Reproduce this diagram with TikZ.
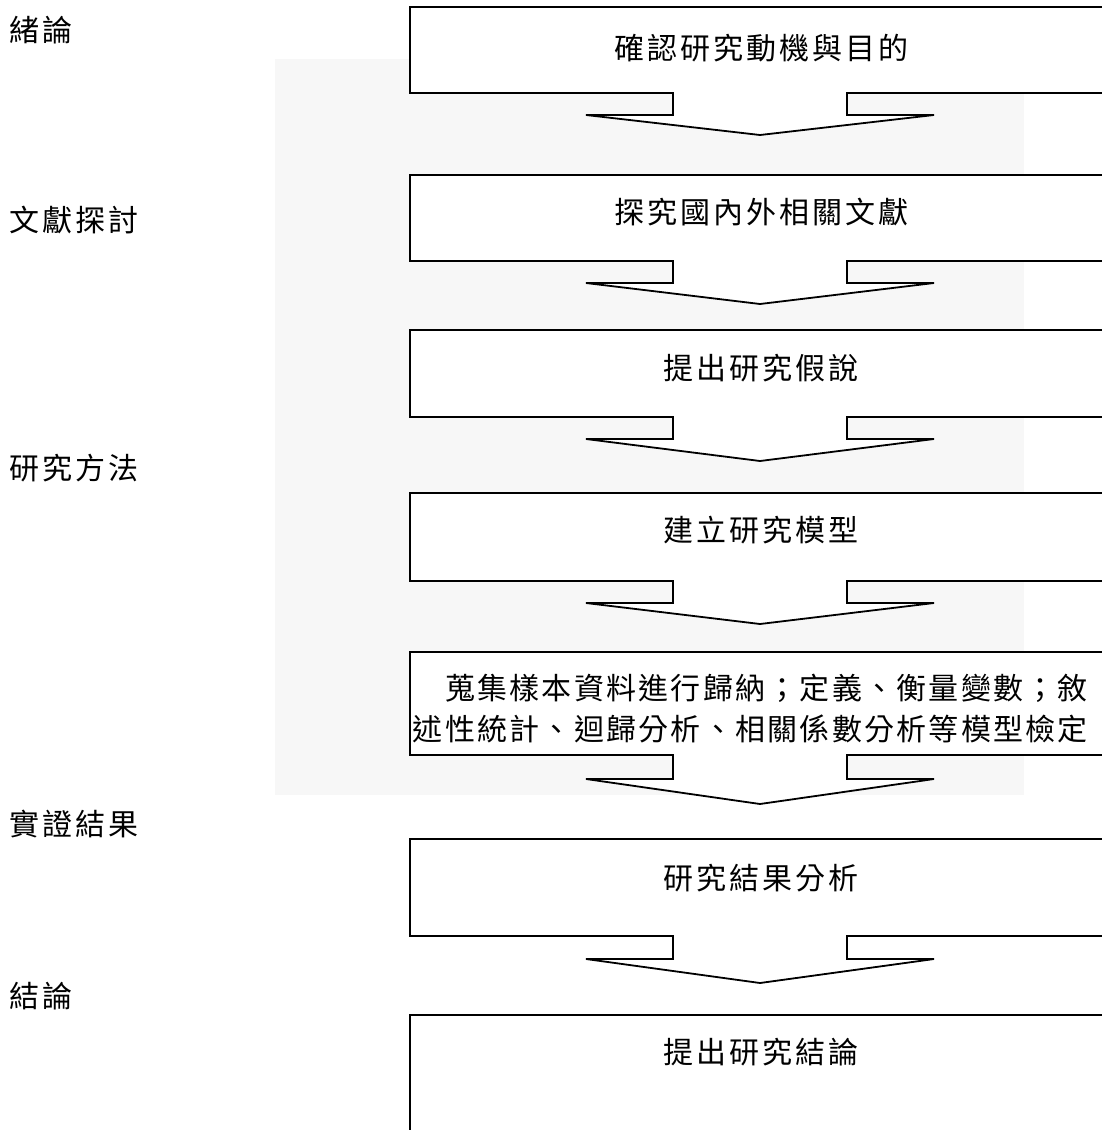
\documentclass[tikz,border=0pt]{standalone}
\usepackage{fontspec}
\newfontfamily\cjk[LetterSpace=10]{Noto Sans CJK TC}
\newfontfamily\cjkb[LetterSpace=7.5]{Noto Sans CJK TC}
\tikzset{
  callout/.style={draw=black, line width=1.8pt, fill=white, line join=miter},
  lbl/.style={font=\cjk\fontsize{30}{36}\selectfont, inner sep=0pt, anchor=west},
  txt/.style={font=\cjk\fontsize{30}{41}\selectfont, inner sep=0pt},
  txtb/.style={font=\cjkb\fontsize{30}{41}\selectfont, inner sep=0pt},
  wmark/.style={fill=black!3, draw=none},
}
\newcommand\callbox[4]{%
  \path[callout] (410,#1) -- (1130,#1) -- (1130,#2) -- (847,#2) -- (847,#3)
    -- (934,#3) -- (760,#4) -- (586,#3) -- (673,#3) -- (673,#2) -- (410,#2) -- cycle;}
\begin{document}
\begin{tikzpicture}[x=1pt,y=-1pt]
  \useasboundingbox (0,0) rectangle (1102,1130);
  \clip (0,0) rectangle (1102,1130);
  \fill[white] (0,0) rectangle (1102,1130);
  % watermark background
  \path[wmark] (275,59) rectangle (1024,795);

  % callout boxes
  \callbox{7}{93}{115}{135}
  \callbox{175}{261}{283}{304}
  \callbox{330}{417}{439}{461}
  \callbox{493}{581}{603}{624}
  \callbox{652}{755}{779}{804}
  \callbox{839}{936}{959}{983}
  \path[callout] (410,1015) rectangle (1130,1150);

  % box texts
  \node[txt] (t1) at (761,48) {確認研究動機與目的};
  \node[txt] (t2) at (761,212) {探究國內外相關文獻};
  \node[txt] (t3) at (761,368) {提出研究假說};
  \node[txt] (t4) at (761,530) {建立研究模型};
  \node[txtb, align=right, anchor=east] (t5) at (1088,709)
    {蒐集樣本資料進行歸納；定義、衡量變數；敘\\述性統計、迴歸分析、相關係數分析等模型檢定};
  \node[txt] (t6) at (761,878) {研究結果分析};
  \node[txt] (t7) at (761,1052) {提出研究結論};

  % left labels
  \node[lbl] (l1) at (9,30) {緒論};
  \node[lbl] (l2) at (9,220) {文獻探討};
  \node[lbl] (l3) at (9,468) {研究方法};
  \node[lbl] (l4) at (9,824) {實證結果};
  \node[lbl] (l5) at (9,996) {結論};
\end{tikzpicture}
\end{document}
